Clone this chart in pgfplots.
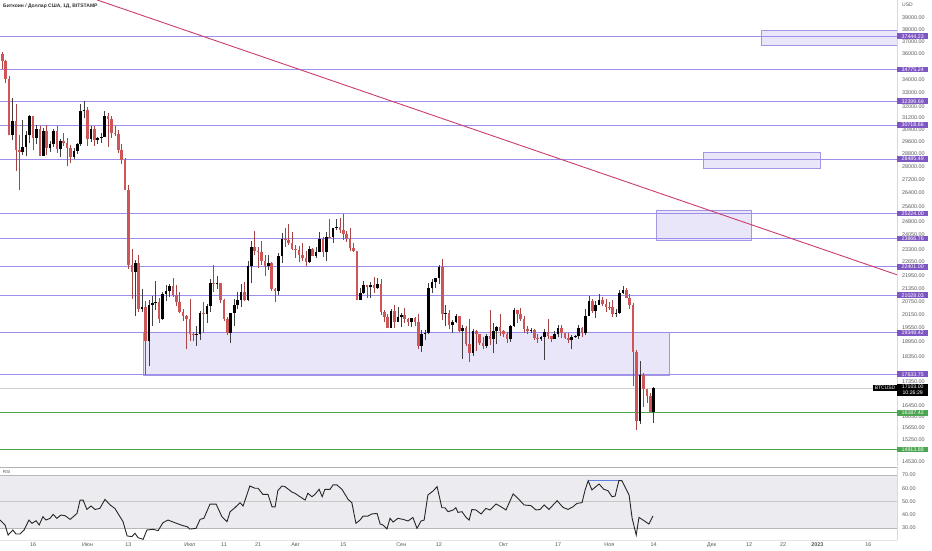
\documentclass[border=0pt]{standalone}
\usepackage{fontspec}
\setmainfont{Liberation Sans}
\usepackage{pgfplots}
\usepackage{pgfplotstable}
\pgfplotsset{compat=1.18}

\definecolor{candred}{RGB}{206,86,86}
\definecolor{lvl}{RGB}{158,142,236}
\definecolor{lvllab}{RGB}{126,87,194}
\definecolor{boxfill}{RGB}{234,230,250}
\definecolor{boxline}{RGB}{165,150,228}
\definecolor{grn}{RGB}{76,165,80}
\definecolor{trend}{RGB}{205,60,110}
\definecolor{tickc}{RGB}{90,90,90}
\definecolor{bandfill}{RGB}{236,236,240}
\definecolor{rsiblue}{RGB}{95,125,220}

\pgfplotstableread{
d o h l c
-10 36550 36650 35260 35990
-9 35990 36130 34790 35470
-8 35470 35500 33720 34040
-7 34040 34240 30030 30080
-6 30080 32630 29750 31010
-5 31010 32170 27750 29080
-4 29080 30040 26560 28930
-3 28930 31070 28730 29270
-2 29270 30300 28650 30080
-1 30080 31430 29490 31320
0 31320 31320 29080 29850
1 29850 30760 29430 30440
2 30440 30660 28650 28700
3 28700 30540 28690 30320
4 30320 30760 28730 29190
5 29190 29640 28950 29430
6 29430 30440 29240 30290
7 30290 30650 28880 29100
8 29100 29800 28640 29650
9 29650 30180 29300 29520
10 29520 29830 28020 29200
11 29200 29360 28240 28620
12 28620 29180 28500 29020
13 29020 29520 28820 29460
14 29460 32200 29320 31720
15 31720 32390 31240 31800
16 31800 31980 29330 29800
17 29800 30650 29600 30450
18 30450 30670 29350 29700
19 29700 29950 29480 29860
20 29860 30180 29520 29900
21 29900 31720 29890 31370
22 31370 31550 29230 31130
23 31130 31320 29860 30200
24 30200 30660 29960 30110
25 30110 30360 28880 29090
26 29090 29430 28140 28400
27 28400 28550 26560 26600
28 26600 26880 22300 22470
29 22470 23320 20850 22140
30 22140 22760 20080 22580
31 22580 22980 20240 20400
32 20400 21330 20260 20470
33 20470 20760 17600 19000
34 19000 20800 17950 20560
35 20560 21000 19660 20650
36 20650 21700 20360 20720
37 20720 20880 19770 19970
38 19970 21200 19900 21100
39 21100 21500 20780 21230
40 21230 21580 20970 21490
41 21490 21860 20970 21030
42 21030 21520 20520 20730
43 20730 21190 20200 20280
44 20280 20400 19850 20100
45 20100 20140 18640 19930
46 19930 20870 18980 19290
47 19290 19400 18980 19250
48 19250 19640 18770 19300
49 19300 20320 19040 20230
50 20230 20700 19320 20180
51 20180 20640 19790 20550
52 20550 21800 20270 21620
53 21620 22500 21190 21590
54 21590 21940 21320 21600
55 21600 21620 20660 20830
56 20830 20850 19860 19960
57 19960 20030 19230 19320
58 19320 20220 18900 20220
59 20220 20870 19640 20580
60 20580 21190 20390 20830
61 20830 21560 20480 21200
62 21200 21650 20770 20790
63 20790 22680 20760 22430
64 22430 23750 21600 23390
65 23390 24260 23000 23230
66 23230 23430 22360 23160
67 23160 23740 22500 22690
68 22690 22990 21950 22450
69 22450 23000 22270 22590
70 22590 22660 21250 21310
71 21310 21350 20720 21230
72 21230 23100 21050 22950
73 22950 24170 22600 23850
74 23850 24440 23440 23780
75 23780 24650 23520 23640
76 23640 24190 23240 23300
77 23300 23500 22850 23280
78 23280 23460 22670 22990
79 22990 23640 22700 22830
80 22830 23220 22460 22630
81 22630 23470 22590 23320
82 23320 23360 22930 22970
83 22970 23420 22860 23180
84 23180 24230 23150 23820
85 23820 23940 22880 23140
86 23140 24200 22680 23960
87 23960 24910 23900 23950
88 23950 24450 23620 24410
89 24410 24900 24300 24460
90 24460 25000 24160 24310
91 24310 25200 23800 24100
92 24100 24250 23700 23860
93 23860 24440 23200 23340
94 23340 23600 23150 23200
95 23200 23200 20810 20830
96 20830 21370 20800 21150
97 21150 21700 21100 21530
98 21530 21530 20900 21400
99 21400 21650 20880 21530
100 21530 21880 21150 21370
101 21370 21830 21320 21570
102 21570 21820 20110 20250
103 20250 20350 19810 20030
104 20030 20150 19570 19560
105 19560 20400 19540 20290
106 20290 20570 19540 19800
107 19800 20480 19800 20050
108 20050 20200 19580 20130
109 20130 20450 19760 19950
110 19950 20000 19650 19830
111 19830 20000 19600 19990
112 19990 20030 19640 19800
113 19800 20180 18640 18800
114 18800 19450 18550 19290
115 19290 19450 19030 19320
116 19320 21590 19300 21370
117 21370 21800 21140 21650
118 21650 21850 21380 21830
119 21830 22480 21580 22400
120 22400 22780 19880 20180
121 20180 20560 19640 20230
122 20230 20360 19510 19700
123 19700 19890 19340 19800
124 19800 20180 19750 20100
125 20100 20100 19400 19420
126 19420 19680 18260 19540
127 19540 19620 18800 18880
128 18880 19940 18130 18480
129 18480 19490 18370 19410
130 19410 19470 18560 19300
131 19300 19300 18840 18920
132 18920 19180 18650 18800
133 18800 19300 18680 19220
134 19220 20370 18840 19090
135 19090 19780 18490 19420
136 19420 19640 18880 19590
137 19590 20170 19200 19430
138 19430 19480 19160 19310
139 19310 19400 18930 19060
140 19060 19700 18970 19630
141 19630 20460 19600 20340
142 20340 20370 19750 20160
143 20160 20450 19870 19960
144 19960 20060 19330 19530
145 19530 19620 19270 19420
146 19420 19560 19330 19450
147 19450 19530 19040 19140
148 19140 19270 18890 19060
149 19060 19220 18990 19160
150 19160 19520 18190 19380
151 19380 19950 19080 19190
152 19190 19220 18970 19070
153 19070 19420 19070 19270
154 19270 19690 19160 19560
155 19560 19700 19100 19330
156 19330 19350 19080 19130
157 19130 19350 18900 19040
158 19040 19250 18650 19170
159 19170 19250 19120 19210
160 19210 19700 19080 19570
161 19570 19600 19160 19340
162 19340 20410 19250 20090
163 20090 21000 20060 20770
164 20770 20870 20220 20290
165 20290 20750 20000 20600
166 20600 21080 20560 20820
167 20820 20930 20520 20630
168 20630 20840 20240 20490
169 20490 20700 20350 20480
170 20480 20800 20050 20160
171 20160 20390 20040 20210
172 20210 21300 20190 21150
173 21150 21480 21080 21300
174 21300 21360 20900 20920
175 20920 21070 20400 20600
176 20600 20680 17170 18540
177 18540 18600 15590 15890
178 15890 18150 15770 17600
179 17600 17670 16380 17050
180 17050 17080 16550 16810
181 16810 16920 16260 16200
182 16200 17150 15820 17103
}\ohlc

\def\rw{}\def\rb{}\def\bw{}\def\bb{}
\pgfplotstablegetrowsof{\ohlc}
\pgfmathtruncatemacro\nrows{\pgfplotsretval-1}
\pgfplotsforeachungrouped \i in {0,...,\nrows}{%
  \pgfplotstablegetelem{\i}{d}\of\ohlc\edef\vD{\pgfplotsretval}%
  \pgfplotstablegetelem{\i}{o}\of\ohlc\edef\vO{\pgfplotsretval}%
  \pgfplotstablegetelem{\i}{h}\of\ohlc\edef\vH{\pgfplotsretval}%
  \pgfplotstablegetelem{\i}{l}\of\ohlc\edef\vL{\pgfplotsretval}%
  \pgfplotstablegetelem{\i}{c}\of\ohlc\edef\vC{\pgfplotsretval}%
  \ifnum\vC<\vO\relax
    \edef\rw{\rw(\vD,\vL)(\vD,\vH)(\vD,nan)}%
    \edef\rb{\rb(\vD,\vO)(\vD,\vC)(\vD,nan)}%
  \else
    \edef\bw{\bw(\vD,\vL)(\vD,\vH)(\vD,nan)}%
    \edef\bb{\bb(\vD,\vO)(\vD,\vC)(\vD,nan)}%
  \fi
}

\tikzset{lab/.style={anchor=west, text=white, inner xsep=1pt, inner ysep=1pt,
  font=\fontsize{5.3}{5.6}\selectfont, minimum width=31pt, align=center}}

\begin{document}
\begin{tikzpicture}
\path[use as bounding box] (0,0) rectangle (932pt,550pt);
\fill[white] (0,0) rectangle (932pt,550pt);

% ---------------- main price pane ----------------
\begin{axis}[
  at={(0pt,84pt)}, anchor=south west, scale only axis,
  width=897pt, height=466pt,
  xmin=-9.68, xmax=253.37,
  ymode=log, ymin=14379, ymax=40595,
  axis line style={draw=none}, clip mode=individual,
  xtick=\empty,
  ytick={39000,38000,37000,36000,34000,33000,32000,31200,30400,29600,28800,28000,27200,26400,25600,24800,24050,23300,22650,21950,21350,20750,20150,19550,18950,18350,17350,16450,16050,15650,15250,14530},
  yticklabels={39000.00,38000.00,37000.00,36000.00,34000.00,33000.00,32000.00,31200.00,30400.00,29600.00,28800.00,28000.00,27200.00,26400.00,25600.00,24800.00,24050.00,23300.00,22650.00,21950.00,21350.00,20750.00,20150.00,19550.00,18950.00,18350.00,17350.00,16450.00,16050.00,15650.00,15250.00,14530.00},
  yticklabel pos=right,
  major tick length=0pt, minor tick length=0pt,
  yticklabel style={font=\fontsize{5.4}{6}\selectfont, text=tickc, anchor=west, inner sep=0pt, xshift=5pt},
  unbounded coords=jump, filter discard warning=false,
]
% zones
\addplot[fill=boxfill, draw=boxline, line width=0.6pt] coordinates {(32.3,17600)(186.5,17600)(186.5,19380)(32.3,19380)(32.3,17600)};
\addplot[fill=boxfill, draw=boxline, line width=0.6pt] coordinates {(182.7,23790)(210.6,23790)(210.6,25430)(182.7,25430)(182.7,23790)};
\addplot[fill=boxfill, draw=boxline, line width=0.6pt] coordinates {(196.5,27910)(230.8,27910)(230.8,28930)(196.5,28930)(196.5,27910)};
\addplot[fill=boxfill, draw=boxline, line width=0.6pt] coordinates {(213.5,36720)(254,36720)(254,37970)(213.5,37970)(213.5,36720)};
% levels
\addplot[lvl, line width=1pt] coordinates {(-12,37444.23)(260,37444.23)};
\addplot[lvl, line width=1pt] coordinates {(-12,34775.24)(260,34775.24)};
\addplot[lvl, line width=1pt] coordinates {(-12,32399.69)(260,32399.69)};
\addplot[lvl, line width=1pt] coordinates {(-12,30718.66)(260,30718.66)};
\addplot[lvl, line width=1pt] coordinates {(-12,28485.49)(260,28485.49)};
\addplot[lvl, line width=1pt] coordinates {(-12,25224.00)(260,25224.00)};
\addplot[lvl, line width=1pt] coordinates {(-12,23866.76)(260,23866.76)};
\addplot[lvl, line width=1pt] coordinates {(-12,22401.00)(260,22401.00)};
\addplot[lvl, line width=1pt] coordinates {(-12,21028.03)(260,21028.03)};
\addplot[lvl, line width=1pt] coordinates {(-12,19348.42)(260,19348.42)};
\addplot[lvl, line width=1pt] coordinates {(-12,17633.75)(260,17633.75)};
\addplot[grn, line width=0.9pt] coordinates {(-12,16187.42)(260,16187.42)};
\addplot[grn, line width=0.9pt] coordinates {(-12,14913.88)(260,14913.88)};
\addplot[black!18, line width=0.6pt] coordinates {(-12,17103)(260,17103)};
% candles
\edef\tmp{\noexpand\addplot[candred!80!black, line width=0.6pt] coordinates {\rw};}\tmp
\edef\tmp{\noexpand\addplot[black!75, line width=0.6pt] coordinates {\bw};}\tmp
\edef\tmp{\noexpand\addplot[candred, line width=2.6pt] coordinates {\rb};}\tmp
\edef\tmp{\noexpand\addplot[black, line width=2.6pt] coordinates {\bb};}\tmp
% trend line
\addplot[trend, line width=0.9pt] coordinates {(18.8,40595)(253.37,22010)};
% right separator
\draw[black!15] (rel axis cs:1,0) -- (rel axis cs:1,1);
% labels
\node[lab, fill=lvllab] at (axis cs:253.37,37444.23) {37444.23};
\node[lab, fill=lvllab] at (axis cs:253.37,34775.24) {34775.24};
\node[lab, fill=lvllab] at (axis cs:253.37,32399.69) {32399.69};
\node[lab, fill=lvllab] at (axis cs:253.37,30718.66) {30718.66};
\node[lab, fill=lvllab] at (axis cs:253.37,28485.49) {28485.49};
\node[lab, fill=lvllab] at (axis cs:253.37,25224.00) {25224.00};
\node[lab, fill=lvllab] at (axis cs:253.37,23866.76) {23866.76};
\node[lab, fill=lvllab] at (axis cs:253.37,22401.00) {22401.00};
\node[lab, fill=lvllab] at (axis cs:253.37,21028.03) {21028.03};
\node[lab, fill=lvllab] at (axis cs:253.37,19348.42) {19348.42};
\node[lab, fill=lvllab] at (axis cs:253.37,17633.75) {17633.75};
\node[lab, fill=grn] at (axis cs:253.37,16187.42) {16187.42};
\node[lab, fill=grn] at (axis cs:253.37,14913.88) {14913.88};
\node[anchor=east, fill=black, text=white, inner xsep=1.5pt, inner ysep=1pt, font=\fontsize{5}{5.5}\selectfont] at (axis cs:253.37,17103) {BTCUSD};
\node[lab, fill=black, inner ysep=1pt, font=\fontsize{5.2}{6}\selectfont, anchor=north west, yshift=4pt] at (axis cs:253.37,17103) {17103.00\\10:26:29};
\end{axis}

% ---------------- RSI pane ----------------
\begin{axis}[
  at={(0pt,10pt)}, anchor=south west, scale only axis,
  width=897pt, height=73pt,
  xmin=-9.68, xmax=253.37, ymin=20.94, ymax=76.04,
  axis line style={draw=none}, clip mode=individual,
  xtick={0,16,28,46,56,66,77,91,108,119,138,154,169,182,199,210,220,230,245},
  xticklabels={16,Июн,13,Июл,11,21,Авг,15,Сен,12,Окт,17,Ноя,14,Дек,12,22,\textbf{2023},16},
  ytick={30,40,50,60,70},
  yticklabels={30.00,40.00,50.00,60.00,70.00},
  yticklabel pos=right,
  major tick length=0pt,
  yticklabel style={font=\fontsize{5.4}{6}\selectfont, text=tickc, anchor=west, inner sep=0pt, xshift=5pt},
  xticklabel style={font=\fontsize{5.4}{6}\selectfont, text=tickc, inner sep=0pt, yshift=-3pt},
]
\addplot[fill=bandfill, draw=none] coordinates {(-12,30)(260,30)(260,70)(-12,70)(-12,30)};
\addplot[black!28, line width=0.9pt] coordinates {(-12,70)(260,70)};
\addplot[black!28, line width=0.9pt] coordinates {(-12,30)(260,30)};
\addplot[black!22, line width=0.8pt] coordinates {(-12,50)(260,50)};
\addplot[rsiblue, line width=1.1pt] coordinates {(162.8,65.7)(172.7,65.7)};
\addplot[black!85, line width=0.9pt] coordinates {
(-9.7,36) (-8.2,32.3) (-7.3,24.7) (-5.9,28.5) (-5.0,25.5) (-3.8,25.5) (-2.6,28.5) (-1.2,36) (-0.3,33.5) (0.9,35.5) (1.8,32.3) (2.9,38.5) (3.8,36) (5.0,37.3) (5.9,40.3) (7.0,37.3) (8.2,39.8) (9.4,39.3) (10.9,36.5) (12.9,41) (13.8,51) (14.7,51) (15.8,44) (17.0,46.6) (18.2,44) (19.6,44.8) (21.1,51.6) (22.6,47.4) (24.0,44.8) (26.4,34.8) (27.6,24) (29.0,23.5) (29.9,26) (30.8,22.7) (32.3,21.4) (33.4,28.5) (35.2,29) (36.7,28) (38.1,34) (39.6,36) (41.6,34) (43.7,32) (45.2,31) (46.0,29.2) (47.8,29.7) (49.0,36.5) (50.1,37.3) (51.9,48) (53.7,48) (55.4,38.5) (56.9,34.8) (57.8,42.3) (59.2,45.3) (60.7,49.1) (61.6,46.6) (63.6,61.7) (65.1,60) (66.0,60) (67.4,55.4) (68.9,55.4) (70.1,46) (71.0,46) (71.8,58.2) (73.0,61.7) (73.9,61.2) (76.0,57) (76.8,56.2) (78.3,53.6) (79.8,51.1) (80.6,56.2) (81.8,53.6) (82.7,55.4) (83.9,59.2) (84.8,53.6) (85.6,59.2) (87.1,59.2) (88.0,62.5) (89.1,62.5) (90.6,59.2) (92.4,51.6) (93.5,49.1) (94.7,33.5) (95.9,36) (96.8,39) (98.2,39) (99.4,40.6) (100.9,41) (101.8,33) (102.6,32.3) (103.8,29.2) (104.7,37.3) (105.6,34.5) (107.0,37.3) (108.5,36.5) (110.0,35.3) (111.4,38) (112.6,29.7) (113.8,35.3) (114.7,36) (115.8,54.9) (117.3,57.9) (118.5,61.2) (119.9,45.3) (120.8,45.3) (121.7,42.3) (123.2,43.6) (124.0,45.3) (124.6,41.8) (125.8,42.3) (127.0,38) (127.9,36) (128.7,44) (129.9,43.6) (131.4,40.6) (132.8,44.8) (134.0,43.6) (135.8,48.1) (137.2,46.1) (138.7,43.6) (140.8,55.7) (142.2,52.4) (144.0,47.4) (146.0,46.9) (147.5,43.6) (148.7,44) (149.9,47.4) (151.3,44) (153.7,50.6) (155.4,45.6) (156.9,44) (158.4,46.1) (159.5,48.6) (161.0,49.1) (161.9,58.7) (162.8,65.7) (163.9,58.7) (166.0,63.2) (167.4,59.2) (168.6,58.2) (169.8,53.6) (170.7,54.1) (171.8,65.7) (172.7,65.7) (174.8,54.9) (175.7,37.3) (176.9,24.7) (177.7,38) (179.2,35.5) (180.6,33) (181.8,39.1)
};
\draw[black!30, line width=0.8pt] (rel axis cs:0,1) -- (rel axis cs:1,1);
\draw[black!10, line width=0.6pt] (rel axis cs:0,0) -- (rel axis cs:1,0);
\draw[black!15] (rel axis cs:1,0) -- (rel axis cs:1,1);
\node[anchor=north west, font=\fontsize{4.5}{5}\selectfont, text=tickc, inner sep=0pt] at (rel axis cs:0.003,0.96) {RSI};
\end{axis}

\node[anchor=west, font=\bfseries\fontsize{5}{6}\selectfont, text=black!80, inner sep=0pt] at (3pt,544pt) {Биткоин / Доллар США, 1Д, BITSTAMP};
\node[anchor=west, font=\fontsize{5}{6}\selectfont, text=tickc, inner sep=0pt] at (902pt,545pt) {USD};
\end{tikzpicture}
\end{document}
